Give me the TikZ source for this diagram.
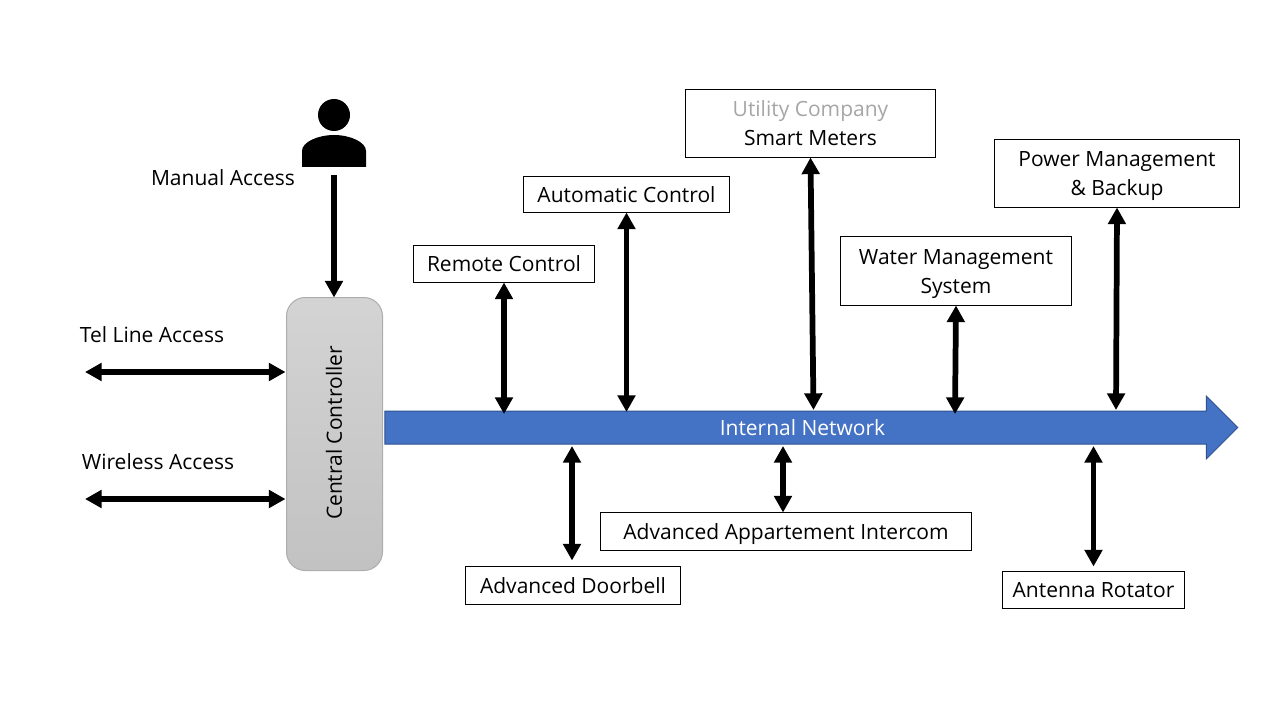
\documentclass[tikz,border=0pt]{standalone}
\usepackage{fontspec}
\setmainfont{Open Sans}
\usetikzlibrary{positioning}
\usetikzlibrary{calc}
\usetikzlibrary{arrows.meta}
\usetikzlibrary{shapes.arrows}

\definecolor{netblue}{HTML}{4472C4}
\definecolor{netedge}{HTML}{2F528F}
\definecolor{mutedtext}{HTML}{A6A6A6}

\newcommand{\linestrut}{\rule[-5pt]{0pt}{21.7pt}}

\tikzset{
    label text/.style={font=\fontsize{15.75}{21.75}\selectfont, text=black, inner sep=0pt, outer sep=0pt, align=center},
    device/.style={label text, draw=black, line width=0.75pt, fill=white},
    link/.style={line width=4.3pt, {Triangle[width=13pt, length=12.5pt]}-{Triangle[width=13pt, length=12.5pt]}},
    oneway/.style={line width=4.3pt, -{Triangle[width=13pt, length=12.5pt]}}
}

\begin{document}
\begin{tikzpicture}[x=0.75pt, y=-0.75pt]

    \useasboundingbox (0, 0) rectangle (1280, 720);

    % Draw user
    \fill (334, 115) circle [radius=12pt];
    \fill (302, 167) -- (302, 151) .. controls (302, 142) and (318, 135) .. (334, 135) .. controls (350, 135) and (366, 142) .. (366, 151) -- (366, 167) -- cycle;
    \coordinate (user) at (334, 175);
    \node[label text] (manual) at (223, 178) {\linestrut Manual Access};

    % Draw controller
    \node[draw=black!32, line width=0.75pt, outer sep=0pt, top color=black!17, bottom color=black!24, rounded corners=14pt, minimum width=96*0.75pt, minimum height=273*0.75pt] (ctrl) at (334.5, 434) {};
    \node[label text, rotate=90] (ctrltext) at (334, 433) {\linestrut Central Controller};

    % Draw outside access
    \node[label text] (tel) at (152, 335) {\linestrut Tel Line Access};
    \node[label text] (wireless) at (158, 462) {\linestrut Wireless Access};
    \coordinate (telend) at (85, 372);
    \coordinate (wirelessend) at (85, 499);

    % Draw network
    \node[single arrow, draw=netedge, line width=0.75pt, fill=netblue, single arrow head extend=15*0.75pt, single arrow head indent=0pt, minimum height=853*0.75pt, text height=32*0.75pt, text depth=0pt, inner sep=0pt, outer sep=0pt] (net) at (803, 427.5) {};
    \node[label text, text=white] (nettext) at (802.5, 428) {\linestrut Internal Network};
    \coordinate (nettop) at (811, 412);
    \coordinate (netbot) at (811, 446);

    % Draw boxes
    \node[device, minimum width=181*0.75pt, minimum height=37*0.75pt] (remote) at (504, 264) {\linestrut Remote Control};
    \node[device, minimum width=206*0.75pt, minimum height=36*0.75pt] (auto) at (626.5, 194.5) {\linestrut Automatic Control};
    \node[device, minimum width=250*0.75pt, minimum height=68*0.75pt] (meters) at (810.5, 123.5) {\textcolor{mutedtext}{\linestrut Utility Company}\\\linestrut Smart Meters};
    \node[device, minimum width=231*0.75pt, minimum height=69*0.75pt] (water) at (956, 271) {\linestrut Water Management\\\linestrut System};
    \node[device, minimum width=245*0.75pt, minimum height=68*0.75pt] (power) at (1117, 173.5) {\linestrut Power Management\\\linestrut \& Backup};
    \node[device, minimum width=371*0.75pt, minimum height=38*0.75pt] (intercom) at (786, 531.5) {\linestrut Advanced Appartement Intercom};
    \node[device, minimum width=215*0.75pt, minimum height=38*0.75pt] (doorbell) at (573, 585.5) {\linestrut Advanced Doorbell};
    \node[device, minimum width=182*0.75pt, minimum height=37*0.75pt] (rotator) at (1093.5, 590) {\linestrut Antenna Rotator};

    % Draw arrows
    \draw[oneway] (user) -- (ctrl.north -| user);
    \draw[link] (telend) -- ($(ctrl.west |- telend) + (-1, 0)$);
    \draw[link] (wirelessend) -- ($(ctrl.west |- wirelessend) + (-1, 0)$);

    \draw[link] (remote.south) -- ($(remote.south |- nettop) + (0, 2)$);
    \draw[link] (auto.south) -- (auto.south |- nettop);
    \draw[link] (meters.south) -- ($(meters.south |- nettop) + (3, -2)$);
    \draw[link] (water.south) -- ($(water.south |- nettop) + (-1, 2)$);
    \draw[link] (power.south) -- ($(power.south |- nettop) + (-1, -2)$);

    \draw[link] (doorbell.north) ++(-1, -6) coordinate (doorbelltop) -- (doorbelltop |- netbot);
    \draw[link] (intercom.north) ++(-3, 0) coordinate (intercomtop) -- (intercomtop |- netbot);
    \draw[link] (rotator.north) ++(0, -5) coordinate (rotatortop) -- (rotatortop |- netbot);

\end{tikzpicture}
\end{document}
